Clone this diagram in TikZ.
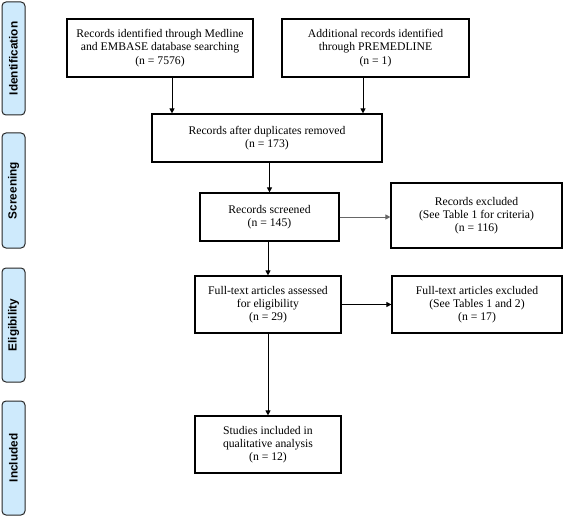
\documentclass[tikz,border=0pt]{standalone}
\usepackage{fontspec}
\setmainfont{Liberation Serif}
\newfontfamily\labelfont{Liberation Sans}
\usetikzlibrary{arrows.meta}
\definecolor{phaseblue}{RGB}{206,234,252}
\begin{document}
\begin{tikzpicture}[x=1pt,y=-1pt,
  box/.style={draw, line width=1.2pt, rectangle, align=center,
    font=\fontsize{11.7}{13.3}\selectfont, inner sep=0pt},
  phase/.style={draw=black!85, line width=1pt, rounded corners=4pt, fill=phaseblue,
    minimum height=23pt, inner sep=0pt, rotate=90,
    font=\labelfont\bfseries\fontsize{11.8}{13}\selectfont},
  arr/.style={line width=1pt, -{Triangle[length=5pt,width=5pt]}}]
\useasboundingbox (0,0) rectangle (568,516);

% phase labels
\node[phase, minimum width=113pt] (pid) at (13.5,58.5) {Identification};
\node[phase, minimum width=115pt] (psc) at (13.5,190.5) {Screening};
\node[phase, minimum width=114pt] (pel) at (13.5,325) {Eligibility};
\node[phase, minimum width=114pt] (pin) at (13.5,458) {Included};

% boxes
\node[box, minimum width=186pt, minimum height=58pt] (b1) at (160,48)
  {Records identified through Medline\\and EMBASE database searching\\(n = 7576)};
\node[box, minimum width=187pt, minimum height=58pt] (b2) at (375.5,48)
  {Additional records identified\\through PREMEDLINE\\(n = 1)};
\node[box, minimum width=230pt, minimum height=48pt] (b3) at (267,138)
  {Records after duplicates removed\\(n = 173)};
\node[box, minimum width=139pt, minimum height=48pt] (b4) at (269.5,217)
  {Records screened\\(n = 145)};
\node[box, minimum width=171pt, minimum height=65pt] (b5) at (476.5,215.5)
  {Records excluded\\(See Table 1 for criteria)\\(n = 116)};
\node[box, minimum width=146pt, minimum height=57pt] (b6) at (268,304.5)
  {Full-text articles assessed\\for eligibility\\(n = 29)};
\node[box, minimum width=170pt, minimum height=57pt] (b7) at (477,304.5)
  {Full-text articles excluded\\(See Tables 1 and 2)\\(n = 17)};
\node[box, minimum width=146pt, minimum height=57pt] (b8) at (268,444.5)
  {Studies included in\\qualitative analysis\\(n = 12)};

% connectors
\draw[arr] ([xshift=12pt]b1.south) -- ([xshift=12pt]b1.south |- b3.north);
\draw[arr] ([xshift=-12.5pt]b2.south) -- ([xshift=-12.5pt]b2.south |- b3.north);
\draw[arr] (b4.north |- b3.south) -- (b4.north);
\draw[arr, draw=black!60, fill=black] (b4.east) -- (b4.east -| b5.west);
\draw[arr] (b6.north |- b4.south) -- (b6.north);
\draw[arr] (b6.east) -- (b6.east -| b7.west);
\draw[arr] (b6.south) -- (b8.north);
\end{tikzpicture}
\end{document}
